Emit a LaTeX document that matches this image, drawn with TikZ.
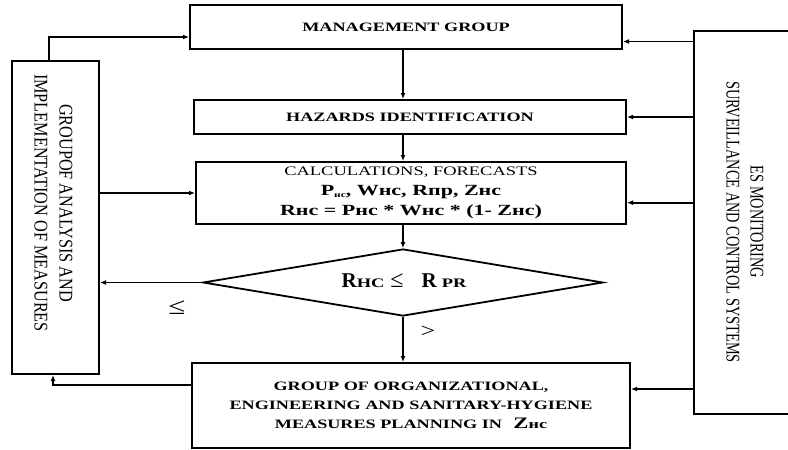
\documentclass[tikz,border=0pt]{standalone}
\usepackage{fontspec}
\setmainfont{Liberation Serif}
\usepackage{graphicx}
\usetikzlibrary{arrows.meta,shapes.geometric}
\newcommand{\hs}[1]{\scalebox{1.42}[1]{#1}}
\begin{document}
\begin{tikzpicture}[x=1pt,y=-1pt,
  box/.style={draw, line width=2pt, rectangle, inner sep=0pt, align=center},
  conn/.style={line width=1.7pt, -{Latex[length=6pt,width=5pt]}},
  lbl/.style={inner sep=0pt, align=center}]
\useasboundingbox (0,0) rectangle (788,450);

% boxes
\node[box, minimum width=432pt, minimum height=44pt, font=\fontsize{12.8}{14}\selectfont\bfseries] (mg) at (406,27) {\hs{MANAGEMENT GROUP}};
\node[box, minimum width=432pt, minimum height=34pt, font=\fontsize{12.8}{14}\selectfont\bfseries] (hz) at (410,117) {\hs{HAZARDS IDENTIFICATION}};
\node[box, minimum width=430pt, minimum height=62pt, font=\fontsize{13}{20}\selectfont] (calc) at (411,193)
 {\hs{CALCULATIONS,\ FORECASTS}\\
  \hs{\fontsize{15.5}{20}\selectfont\bfseries P\raisebox{-1.5pt}{\fontsize{8}{8}\selectfont нс}, Wнс, Rпр, Zнс}\\
  \hs{\fontsize{15.5}{20}\selectfont\bfseries Rнс = Pнс * Wнс * (1- Zнс)}};
\node[draw, diamond, line width=1.8pt, minimum width=400pt, minimum height=67pt, inner sep=0pt] (dec) at (403,282.5) {};
\node[lbl] (dectext) at (404,281)
 {\fontsize{21}{21}\selectfont\bfseries R\hs{\fontsize{13}{13}\selectfont HC}\hspace{6pt}{\mdseries\fontsize{24}{24}\selectfont ≤}\hspace{18pt}R\hspace{5pt}\hs{\fontsize{13}{13}\selectfont PR}};
\node[box, minimum width=438pt, minimum height=85pt, font=\fontsize{12.8}{19}\selectfont\bfseries] (bot) at (411,405.5)
 {\hs{GROUP OF ORGANIZATIONAL,}\\
  \hs{ENGINEERING AND SANITARY-HYGIENE}\\
  \hs{MEASURES PLANNING IN\hspace{8pt}{\fontsize{16}{16}\selectfont Z}нс}};
\node[box, minimum width=87pt, minimum height=313pt] (left) at (55.5,217.5) {};
\node[lbl, rotate=-90, font=\fontsize{12.5}{25}\selectfont] (lefttext) at (53.5,203)
 {\scalebox{1.3}[1.55]{GROUPOF ANALYSIS AND}\\\scalebox{1.3}[1.55]{IMPLEMENTATION OF MEASURES}};
\node[box, minimum width=106pt, minimum height=383pt] (right) at (747,222.5) {};
\node[lbl, rotate=-90, font=\fontsize{12.5}{24}\selectfont] (righttext) at (745,222)
 {\scalebox{1.15}[1.55]{ES MONITORING}\\\scalebox{1.15}[1.55]{SURVEILLANCE AND CONTROL SYSTEMS}};

% labels
\node[lbl, font=\fontsize{24}{24}\selectfont] (le) at (177,308) {\scalebox{1.3}[1]{≤}};
\node[lbl, font=\fontsize{20}{20}\selectfont] (gt) at (428,332) {\scalebox{1.3}[1]{>}};

% vertical flow
\draw[conn] (mg.south -| dec.north) -- (hz.north -| dec.north);
\draw[conn] (hz.south -| dec.north) -- (calc.north -| dec.north);
\draw[conn] (calc.south -| dec.north) -- (dec.north);
\draw[conn] (dec.south) -- (bot.north -| dec.south);

% left side
\draw[conn] ([xshift=-6.5pt]left.north) |- ([yshift=-10pt]mg.west);
\draw[conn] (left.east |- calc.west) -- (calc.west);
\draw[conn] (dec.west) -- (dec.west -| left.east);
\draw[conn] ([yshift=20.5pt]bot.west) -| ([xshift=-2.5pt]left.south);

% right side
\draw[conn] ([yshift=-14.5pt]right.west |- mg.east) -- ([yshift=-14.5pt]mg.east);
\draw[conn] (right.west |- hz.east) -- (hz.east);
\draw[conn] ([yshift=-9.7pt]right.west |- calc.east) -- ([yshift=-9.7pt]calc.east);
\draw[conn] ([yshift=16.5pt]right.west |- bot.east) -- ([yshift=16.5pt]bot.east);
\end{tikzpicture}
\end{document}
